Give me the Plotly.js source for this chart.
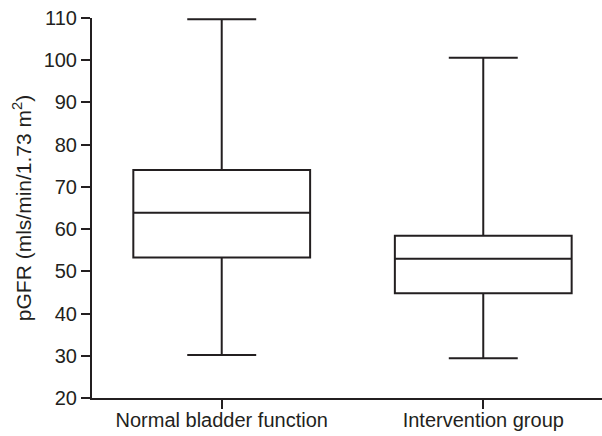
<!DOCTYPE html>
<html>
<head>
<meta charset="utf-8">
<script src="https://cdn.plot.ly/plotly-3.0.1.min.js"></script>
<style>html,body{margin:0;padding:0;background:#fff;}</style>
</head>
<body>
<div id="chart" style="width:602px;height:436px;"></div>
<script>
const categories = ["Normal bladder function", "Intervention group"];
const lowerFence = [30.2, 29.4];
const q1Values = [53.3, 44.8];
const medianValues = [63.9, 53.0];
const q3Values = [74.0, 58.4];
const upperFence = [109.7, 100.6];
const yTicks = [20, 30, 40, 50, 60, 70, 80, 90, 100, 110];

const ink = "#231f20";
const font = "Liberation Sans, Arial, Helvetica, sans-serif";

const trace = {
  type: "box",
  x: categories,
  q1: q1Values,
  median: medianValues,
  q3: q3Values,
  lowerfence: lowerFence,
  upperfence: upperFence,
  width: 0.676,
  whiskerwidth: 0.39,
  fillcolor: "rgba(255,255,255,0)",
  line: {color: ink, width: 2},
  boxpoints: false,
  hoverinfo: "skip",
  showlegend: false
};

const layout = {
  width: 602,
  height: 436,
  margin: {l: 92, r: 0, t: 18, b: 38, pad: 0},
  paper_bgcolor: "#fff",
  plot_bgcolor: "#fff",
  font: {family: font, color: ink},
  xaxis: {
    type: "category",
    range: [-0.496, 1.454],
    showline: true,
    linecolor: ink,
    linewidth: 2,
    showgrid: false,
    zeroline: false,
    ticks: "outside",
    ticklen: 9,
    tickwidth: 2,
    tickcolor: ink,
    ticklabelstandoff: -6,
    tickfont: {family: font, size: 20, color: ink}
  },
  yaxis: {
    range: [20, 110],
    tickvals: yTicks,
    ticktext: yTicks.map(String),
    showline: true,
    linecolor: ink,
    linewidth: 2,
    showgrid: false,
    zeroline: false,
    ticks: "outside",
    ticklen: 9,
    tickwidth: 2,
    tickcolor: ink,
    tickfont: {family: font, size: 20, color: ink},
    title: {
      text: "pGFR (mls/min/1.73 m<sup>2</sup>)",
      font: {family: font, size: 21, color: ink},
      standoff: 6
    }
  }
};

Plotly.newPlot("chart", [trace], layout, {staticPlot: true, displayModeBar: false});
</script>
</body>
</html>
